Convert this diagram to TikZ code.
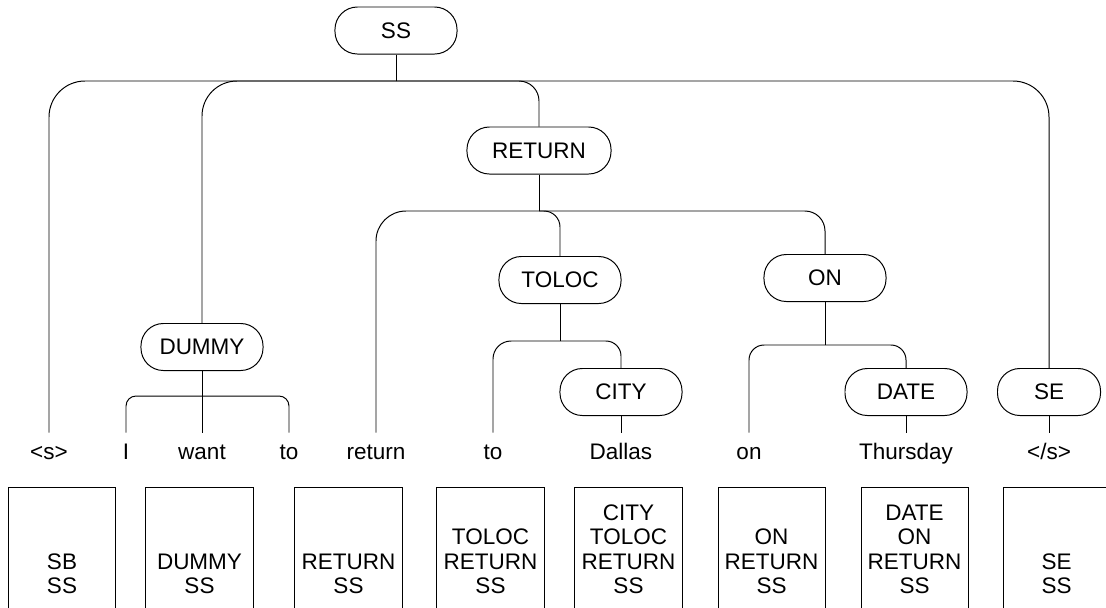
\documentclass[tikz,border=0pt]{standalone}
\usepackage{fontspec}
\setmainfont{Liberation Sans}
\newcommand{\tagstack}[1]{\begin{tabular}[b]{@{}c@{}}#1\end{tabular}}

\begin{document}
\begin{tikzpicture}[x=0.025cm, y=-0.025cm, line width=0.7pt,
    font=\fontsize{16pt}{17.3pt}\selectfont,
    tag/.style={draw, rounded corners=0.56cm, minimum width=3.05cm, minimum height=1.175cm, inner sep=0pt},
    word/.style={anchor=base, inner xsep=1pt, inner ysep=7.3pt, text height=11.5pt, text depth=3pt},
    stack/.style={draw, anchor=base, minimum width=2.675cm, inner sep=0pt, text height=2.6375cm, text depth=1cm}]

\useasboundingbox (0,0) rectangle (1106,607);
\clip (0,0) rectangle (1106,607);

% Tree nodes
\node[tag] (ss) at (396,30.5) {SS};
\node[tag, minimum width=3.6cm] (ret) at (539,150.5) {RETURN};
\node[tag] (toloc) at (560,280) {TOLOC};
\node[tag] (on) at (825,278) {ON};
\node[tag] (dummy) at (202,347) {DUMMY};
\node[tag] (city) at (621,392) {CITY};
\node[tag] (date) at (906,392) {DATE};
\node[tag, minimum width=2.575cm] (se) at (1049,392) {SE};

% Words
\node[word] (w1) at (49,459.5) {<s>};
\node[word] (w2) at (126,459.5) {I};
\node[word] (w3) at (202,459.5) {want};
\node[word] (w4) at (289,459.5) {to};
\node[word] (w5) at (376,459.5) {return};
\node[word] (w6) at (493,459.5) {to};
\node[word] (w7) at (621,459.5) {Dallas};
\node[word] (w8) at (749,459.5) {on};
\node[word] (w9) at (906,459.5) {Thursday};
\node[word] (w10) at (1049,459.5) {</s>};

% Junctions
\coordinate (top) at (396,81);
\coordinate (dj) at (202,396);
\coordinate (rj) at (539,211);
\coordinate (tj) at (560,341);
\coordinate (oj) at (825,345);

% SS
\draw (ss) -- (top);
\draw[rounded corners=0.9cm] (top) -| (w1);
\draw[rounded corners=0.875cm] (top) -| (dummy);
\draw[rounded corners=0.5cm] (top) -| (ret);
\draw[rounded corners=0.9cm] (top) -| (se);

% DUMMY
\draw (dummy) -- (w3);
\foreach \w in {w2,w4}
    \draw[rounded corners=0.25cm] (dj) -| (\w);

% RETURN
\draw (ret) -- (rj);
\draw[rounded corners=0.75cm] (rj) -| (w5);
\draw[rounded corners=0.4cm] (rj) -| (toloc);
\draw[rounded corners=0.5cm] (rj) -| (on);

% TOLOC
\draw (toloc) -- (tj);
\draw[rounded corners=0.45cm] (tj) -| (w6);
\draw[rounded corners=0.375cm] (tj) -| (city);
\draw (city) -- (w7);

% ON
\draw (on) -- (oj);
\foreach \n in {w8,date}
    \draw[rounded corners=0.375cm] (oj) -| (\n);
\draw (date) -- (w9);

% SE
\draw (se) -- (w10);

% Stacks
\node[stack] (s1) at (62,593.5) {\tagstack{SB\\SS}};
\node[stack] (s2) at (199.5,593.5) {\tagstack{DUMMY\\SS}};
\node[stack] (s3) at (348.5,593.5) {\tagstack{RETURN\\SS}};
\node[stack] (s4) at (490.5,593.5) {\tagstack{TOLOC\\RETURN\\SS}};
\node[stack] (s5) at (628.5,593.5) {\tagstack{CITY\\TOLOC\\RETURN\\SS}};
\node[stack] (s6) at (771.5,593.5) {\tagstack{ON\\RETURN\\SS}};
\node[stack] (s7) at (914.5,593.5) {\tagstack{DATE\\ON\\RETURN\\SS}};
\node[stack] (s8) at (1056.5,593.5) {\tagstack{SE\\SS}};

\end{tikzpicture}
\end{document}
